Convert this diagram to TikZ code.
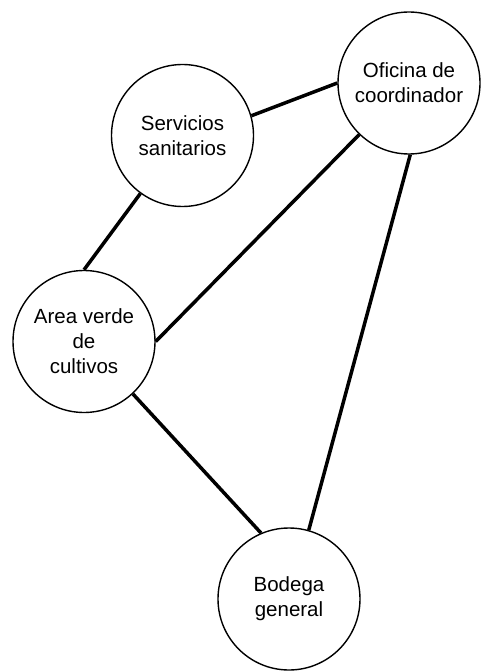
\documentclass[tikz,border=0pt]{standalone}
\usepackage{fontspec}
\setmainfont{Liberation Sans}
\begin{document}
\begin{tikzpicture}[x=1pt,y=-1pt,
  place/.style={circle,draw=black,line width=1.4pt,minimum size=142pt,inner sep=0pt,
    align=center,font=\fontsize{20.5}{25}\selectfont},
  link/.style={line width=3.5pt,black}]
\useasboundingbox (0,0) rectangle (481,671);
\node[place] (s) at (182.5,135.5) {Servicios\\sanitarios};
\node[place] (o) at (409,83) {Oficina de\\coordinador};
\node[place] (a) at (84,341.5) {Area verde\\de\\cultivos};
\node[place] (b) at (289,599) {Bodega\\general};
\draw[link] (s.16) -- (o.180);
\draw[link] (s.234) -- (a.90);
\draw[link] (o.226) -- (a.0);
\draw[link] (o.271) -- (b.74.6);
\draw[link] (a.313.6) -- (b.113.7);
\end{tikzpicture}
\end{document}
